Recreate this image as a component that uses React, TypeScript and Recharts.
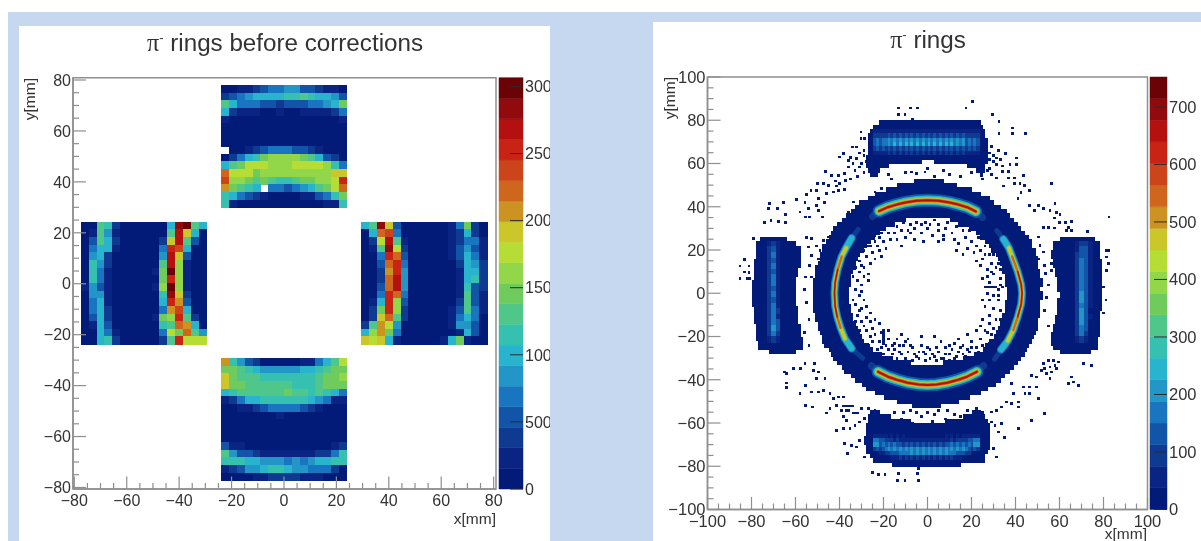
import { BarChart, Bar, ScatterChart, Scatter, XAxis, YAxis, ReferenceArea } from 'recharts'

// colour bands of the palette, bottom to top of the colour bar
const bandColors = [
  '#021a78', '#0a2483', '#0f3a92', '#1255a8', '#1a75c0', '#2296c6', '#27b4cc', '#35c0b0', '#50c78a', '#6fcc5c',
  '#92d64a', '#b5dd35', '#cbc72a', '#cc9322', '#cf661e', '#cc441a', '#c92316', '#b41010', '#900a0e', '#6b0306',
]

// left histogram, 16 x 16 bins of 3 mm per module, value = colour band (0 = empty bin)
const topModule = [
  [1, 1, 2, 2, 3, 4, 5, 5, 6, 6, 4, 4, 3, 2, 2, 1],
  [3, 4, 5, 6, 7, 7, 7, 7, 8, 8, 9, 8, 7, 7, 6, 4],
  [9, 7, 5, 5, 5, 4, 4, 3, 4, 4, 4, 5, 5, 6, 7, 10],
  [7, 3, 2, 2, 2, 1, 1, 2, 1, 1, 2, 2, 2, 2, 3, 5],
  [2, 1, 1, 1, 1, 1, 1, 1, 1, 1, 1, 1, 1, 1, 1, 2],
  [1, 1, 1, 1, 1, 1, 1, 1, 1, 1, 1, 1, 1, 1, 1, 1],
  [1, 1, 1, 1, 1, 1, 1, 1, 1, 1, 1, 1, 1, 1, 1, 1],
  [1, 1, 1, 1, 1, 1, 1, 1, 1, 1, 1, 1, 1, 1, 1, 1],
  [0, 1, 1, 2, 3, 4, 5, 5, 5, 4, 4, 3, 2, 1, 1, 1],
  [1, 3, 5, 7, 8, 10, 11, 11, 11, 11, 10, 9, 7, 4, 3, 1],
  [7, 9, 10, 12, 12, 12, 11, 11, 11, 12, 12, 12, 12, 11, 8, 5],
  [15, 12, 12, 12, 10, 11, 11, 11, 11, 11, 11, 11, 11, 11, 13, 13],
  [16, 11, 11, 10, 9, 10, 9, 8, 8, 9, 10, 10, 11, 11, 12, 17],
  [14, 10, 9, 8, 7, 0, 5, 5, 4, 5, 6, 7, 9, 10, 12, 15],
  [8, 7, 5, 4, 3, 2, 1, 1, 1, 1, 2, 2, 4, 5, 8, 10],
  [8, 2, 1, 1, 1, 1, 1, 1, 1, 1, 1, 1, 1, 2, 2, 8],
]
const leftModule = [
  [1, 1, 9, 8, 3, 1, 1, 1, 1, 1, 1, 7, 19, 20, 9, 7],
  [1, 2, 9, 6, 2, 1, 1, 1, 1, 1, 1, 9, 18, 13, 7, 1],
  [1, 4, 9, 7, 3, 1, 1, 1, 1, 1, 3, 13, 18, 9, 4, 1],
  [1, 5, 7, 7, 2, 1, 1, 1, 1, 1, 5, 17, 16, 7, 1, 1],
  [1, 6, 7, 3, 1, 1, 1, 1, 1, 1, 6, 18, 13, 4, 1, 1],
  [1, 8, 6, 3, 1, 1, 1, 1, 1, 1, 9, 18, 11, 2, 1, 1],
  [1, 8, 5, 2, 1, 1, 1, 1, 1, 2, 10, 20, 11, 2, 1, 1],
  [1, 8, 5, 2, 1, 1, 1, 1, 1, 1, 10, 17, 11, 2, 1, 1],
  [2, 6, 4, 2, 1, 1, 1, 1, 1, 2, 11, 20, 11, 2, 1, 1],
  [1, 6, 6, 2, 1, 1, 1, 1, 1, 1, 8, 19, 13, 3, 1, 1],
  [1, 5, 7, 2, 1, 1, 1, 1, 1, 1, 7, 17, 14, 4, 1, 1],
  [1, 5, 7, 3, 1, 1, 1, 1, 1, 1, 5, 14, 16, 7, 1, 1],
  [1, 4, 7, 3, 1, 1, 1, 1, 1, 2, 10, 11, 17, 9, 3, 1],
  [1, 2, 7, 4, 1, 1, 1, 1, 1, 1, 8, 9, 15, 14, 7, 1],
  [1, 1, 7, 5, 2, 1, 1, 1, 1, 1, 5, 12, 10, 15, 9, 6],
  [1, 1, 7, 8, 3, 1, 1, 1, 1, 1, 3, 9, 17, 12, 12, 12],
]
const rightModule = [
  [7, 9, 19, 13, 4, 1, 1, 1, 1, 1, 1, 2, 5, 10, 3, 1],
  [1, 7, 15, 16, 5, 1, 1, 1, 1, 1, 1, 2, 3, 7, 3, 1],
  [1, 3, 12, 18, 9, 2, 1, 1, 1, 1, 1, 2, 3, 5, 5, 2],
  [1, 2, 9, 19, 12, 3, 1, 1, 1, 1, 1, 2, 4, 6, 4, 2],
  [1, 1, 5, 17, 15, 4, 1, 1, 1, 1, 1, 2, 4, 7, 5, 2],
  [1, 1, 4, 15, 17, 5, 1, 1, 1, 1, 1, 1, 3, 7, 6, 3],
  [1, 1, 3, 14, 17, 6, 1, 1, 1, 1, 1, 1, 2, 7, 7, 3],
  [1, 1, 3, 15, 18, 6, 1, 1, 1, 1, 1, 1, 2, 7, 8, 3],
  [1, 1, 4, 15, 18, 6, 1, 1, 1, 1, 1, 1, 2, 8, 4, 3],
  [1, 1, 5, 17, 15, 5, 1, 1, 1, 1, 1, 1, 2, 9, 4, 2],
  [1, 2, 7, 17, 11, 4, 1, 1, 1, 1, 1, 1, 3, 9, 4, 2],
  [1, 3, 10, 17, 11, 3, 1, 1, 1, 1, 1, 2, 4, 9, 5, 2],
  [1, 3, 13, 15, 9, 3, 1, 1, 1, 1, 1, 2, 5, 7, 5, 1],
  [3, 9, 14, 12, 6, 1, 1, 1, 1, 1, 1, 2, 6, 6, 4, 1],
  [7, 11, 14, 10, 5, 1, 1, 1, 1, 1, 1, 1, 2, 7, 4, 1],
  [13, 12, 13, 7, 2, 1, 1, 1, 1, 1, 2, 7, 10, 2, 1, 1],
]
const bottomModule = [
  [14, 8, 6, 4, 3, 1, 1, 1, 1, 1, 2, 2, 5, 7, 9, 12],
  [10, 10, 9, 8, 7, 6, 6, 6, 6, 6, 7, 7, 8, 9, 10, 10],
  [13, 10, 9, 9, 9, 8, 8, 8, 8, 8, 8, 8, 9, 10, 10, 11],
  [13, 10, 10, 9, 9, 9, 9, 9, 9, 8, 8, 8, 9, 10, 10, 10],
  [7, 8, 9, 9, 9, 9, 9, 9, 10, 9, 9, 8, 9, 8, 7, 5],
  [2, 3, 5, 7, 7, 8, 8, 8, 8, 8, 8, 7, 6, 5, 2, 2],
  [1, 1, 2, 2, 3, 4, 5, 5, 5, 5, 4, 3, 2, 1, 1, 1],
  [1, 1, 1, 1, 1, 1, 1, 2, 1, 1, 1, 1, 1, 1, 1, 1],
  [1, 1, 1, 1, 1, 1, 1, 1, 1, 1, 1, 1, 1, 1, 1, 1],
  [1, 1, 1, 1, 1, 1, 1, 1, 1, 1, 1, 1, 1, 1, 1, 1],
  [1, 1, 1, 1, 1, 1, 1, 1, 1, 1, 1, 1, 1, 1, 1, 1],
  [4, 2, 2, 1, 1, 1, 1, 1, 1, 1, 1, 1, 1, 1, 2, 3],
  [9, 6, 4, 4, 3, 2, 2, 2, 2, 2, 2, 2, 3, 3, 5, 8],
  [8, 8, 8, 7, 7, 6, 6, 6, 5, 6, 5, 6, 7, 7, 8, 8],
  [2, 3, 4, 6, 6, 7, 8, 8, 7, 6, 6, 5, 5, 5, 3, 1],
  [1, 1, 1, 1, 2, 2, 3, 3, 3, 3, 2, 2, 2, 1, 1, 1],
]

// right histogram: filled navy spans per 2 mm row, [y, x1, x2, x3, x4 ...]
const ringRows = [
  [52, -6, 7], [50, -14, 13], [48, -19, 20], [46, -24, 24], [44, -27, 28], [42, -31, 30], [40, -33, 33],
  [38, -35, 36], [36, -37, 37], [34, -39, -10, 10, 39], [32, -41, -15, 14, 41], [30, -43, -19, 19, 42],
  [28, -44, -22, 22, 44], [26, -45, -24, 24, 46], [24, -46, -26, 26, 47], [22, -48, -28, 28, 47],
  [20, -48, -29, 29, 49], [18, -49, -31, 31, 49], [16, -49, -32, 32, 50], [14, -50, -33, 33, 50],
  [12, -51, -33, 34, 50], [10, -51, -34, 34, 51], [8, -51, -35, 35, 51], [6, -52, -35, 35, 52],
  [4, -52, -35, 35, 52], [2, -52, -36, 36, 51], [0, -52, -36, 36, 52], [-2, -52, -36, 36, 52],
  [-4, -52, -36, 35, 51], [-6, -52, -35, 35, 51], [-8, -52, -35, 35, 51], [-10, -51, -34, 34, 51],
  [-12, -51, -34, 34, 50], [-14, -50, -33, 33, 50], [-16, -50, -32, 32, 50], [-18, -49, -31, 31, 49],
  [-20, -48, -30, 30, 48], [-22, -48, -29, 28, 47], [-24, -47, -27, 26, 46], [-26, -45, -25, 25, 45],
  [-28, -44, -21, 21, 44], [-30, -43, -16, 16, 42], [-32, -41, -8, 7, 41], [-34, -39, 39], [-36, -38, 37],
  [-38, -35, 35], [-40, -33, 33], [-42, -30, 31], [-44, -28, 27], [-46, -24, 24], [-48, -20, 19],
  [-50, -14, 14], [-52, -7, 6],
]
const topBlobRows = [
  [79, -22, 24], [77, -25, 25], [75, -26, 26], [73, -27, 26], [71, -27, 27], [69, -27, 27], [67, -27, 27],
  [65, -27, 27], [63, -28, 27], [61, -28, -3, 3, 27], [59, -28, -18, 18, 26], [57, -27, -22, 22, 26], [55, -26, -23, 24, 25],
]
const bottomBlobRows = [
  [-55, -26, -22, 20, 24], [-57, -27, -17, 16, 26], [-59, -27, -8, 8, 27], [-61, -28, 28], [-63, -28, 28], [-65, -28, 28],
  [-67, -29, 28], [-69, -29, 28], [-71, -28, 28], [-73, -28, 27], [-75, -26, 26], [-77, -25, 26], [-79, -16, 15],
]
const leftBlobRows = [
  [25, -76, -64], [23, -78, -60], [21, -78, -58], [19, -78, -58], [17, -78, -58], [15, -79, -58], [13, -79, -58], [11, -79, -59],
  [9, -79, -59], [7, -79, -60], [5, -80, -60], [3, -80, -60], [1, -80, -60], [-1, -80, -60], [-3, -80, -60], [-5, -80, -60],
  [-7, -79, -59], [-9, -79, -59], [-11, -79, -59], [-13, -79, -59], [-15, -78, -58], [-17, -78, -58], [-19, -78, -58],
  [-21, -78, -57], [-23, -77, -57], [-25, -77, -57], [-27, -72, -60],
]
const rightBlobRows = [
  [25, 60, 76], [23, 57, 78], [21, 57, 78], [19, 56, 78], [17, 56, 78], [15, 57, 79], [13, 57, 79], [11, 58, 79],
  [9, 58, 79], [7, 59, 79], [5, 59, 79], [3, 59, 79], [1, 60, 79], [-1, 60, 79], [-3, 59, 79], [-5, 59, 79],
  [-7, 59, 79], [-9, 59, 78], [-11, 58, 78], [-13, 58, 78], [-15, 57, 78], [-17, 57, 78], [-19, 56, 78],
  [-21, 56, 77], [-23, 56, 77], [-25, 57, 77], [-27, 60, 74],
]

// fibre stripes inside the blobs: colour band per 1.3 mm column
const topStripes: [number, string][] = [
  [75, '2222222222222222222222222222222222222'],
  [73, '3333343434343434343434343434343433333'],
  [71, '4545565656565656565656565656565645454'],
  [69, '4545565757575757575757575757565645454'],
  [67, '3434343434343434343434343434343434343'],
  [65, '2222232323232323232323232323232322222'],
]
const bottomStripes: [number, string][] = [
  [-66, '2222212121211111111111111212121222222'],
  [-68, '5544333232222222222222222223233334455'],
  [-70, '6645454544343434343434343445454545466'],
  [-72, '3434565656565656565656565656565654343'],
  [-74, '1122334445555656565656565655544433211'],
  [-76, '1111112223232323232323232323222111111'],
]
// side blobs: colour band per 2 mm column, 2.6 mm rows from y = 23 downwards
const leftStripes = [
  '12321', '13421', '13521', '13421', '13521', '13421', '13521', '13521', '13421', '13521',
  '13421', '13521', '13531', '13521', '13541', '13641', '13531', '12321',
]
const rightStripes = [
  '12332', '12442', '13442', '13542', '13542', '13542', '13542', '13542', '13542', '13642',
  '13642', '13542', '13641', '13642', '13641', '13541', '13531', '12321',
]

// the four bright arcs of the ring
const arcTop = [[-25, 35.5], [-22, 38], [-18, 39.8], [-14, 41], [-10, 42], [-5, 42.8], [0, 43], [5, 42.8], [10, 42], [14, 41], [18, 39.8], [22, 37.8], [25, 35]]
const arcBottom = [[-25.5, -33.5], [-22.5, -36.3], [-18, -38.6], [-14, -40], [-9, -41.4], [-4, -42.2], [0, -42.4], [4, -42.2], [9, -41.4], [14, -40], [18, -38.6], [22.5, -36.3], [25.5, -33.5]]
const arcLeft = [[-31.5, 29.5], [-34.5, 25.5], [-37, 21], [-39, 17], [-40.8, 11], [-42, 5], [-42.3, 0], [-42, -6], [-41, -11], [-39.5, -16], [-37.5, -21], [-34.5, -25.5], [-29.5, -30]]
const arcRight = [[31.5, 29], [34.5, 25], [37, 21], [38.5, 17], [41, 10], [42.6, 4], [43, 0], [42.6, -5], [41, -11], [39, -17], [36.5, -22], [33.5, -26], [30.5, -30.5]]

// single occupied bins scattered around the ring and blobs
const strayBins = [
  [-13.4, 85.8], [-7.7, 85.8], [-4.6, 85.8], [-13.4, 82.7], [-10.4, 82.7], [-6.9, 80.6], [-30.4, 74.7], [-30.4, 71.6], [-28.6, 71.6],
  [-32.4, 67.8], [-34.3, 67.8], [-38.4, 64.7], [-40, 63.2], [-36.2, 61.6], [-32.4, 62.4], [-36.2, 58.5], [-33.1, 57], [-30.9, 58.5],
  [-37.7, 55.4], [-40.7, 54.7], [-46.5, 56.5], [-43.7, 54.7], [-37.4, 52.3], [-40, 50.8], [-41.5, 49.7], [-45.2, 50], [-50.1, 50.8],
  [-47.5, 50.8], [-50.5, 47.7], [-45.9, 46.2], [-43, 47], [-40.7, 47.7], [-53.1, 47.7], [-55.1, 45.7], [-59.6, 43.6], [-55.8, 42],
  [-49.8, 43.9], [-50.5, 40.8], [-54.3, 39.2], [-49.8, 38.5], [-58.1, 37.7], [-71.8, 41.5], [-65.7, 42], [-72.5, 39.5], [-68.3, 39.5],
  [-64.6, 36.5], [-74.3, 33], [-71.3, 33.8], [-68, 33.4], [-64.6, 33], [-55.5, 35.4], [-53.6, 35.4], [-48, 35.4], [-36.2, 37.7],
  [-33.9, 42.3], [-32.4, 40], [-24, 47], [-21, 48.5], [-16.4, 53], [-12.7, 60.8], [-7.4, 56.2], [-5, 55.6], [-1.3, 56.2],
  [-83.4, 15.8], [-85.4, 12.7], [-81.3, 12.7], [-83.4, 10], [-81.3, 9.6], [-85.4, 6.8], [-82, 6.8], [-81, 6.8], [-79.3, 25.3],
  [-55, 26], [-52.8, 25.3], [-54.3, 21.5], [-50.5, 22], [-49, 20], [-52.8, 17.6], [-49.8, 16], [-47.5, 14.5], [-53.6, 13], [-55.5, 7.6],
  [-52.8, 7.6], [-47.5, 24.6], [-45.2, 26.1], [-56, 2], [-55, -4], [-54, -12], [-56, -18], [-54, -24],
  [-29, 66], [-29, 64], [-31, 65], [-28, 61], [-30, 60], [-34, 60], [-35, 63], [-29, 56], [-32, 54], [-35, 53], [-42, 52], [-38, 48], [-47, 42],
  [20.2, 88.9], [17.4, 85.8], [29.3, 82.7], [32.4, 79.7], [38.4, 76.6], [32.4, 74], [38.4, 74], [44.5, 74], [35.4, 64.7], [40.4, 62.7],
  [31.3, 62.7], [37.4, 59.6], [40.4, 59.6], [31.3, 59.6], [33.9, 56.5], [36.6, 56.5], [43.4, 54.7], [36.6, 53.4], [39.3, 53.4],
  [31.3, 53.4], [39.3, 50.8], [41.9, 50.8], [34.3, 49.7], [56.3, 50.8], [46.4, 47.7], [42.4, 46.6], [46.4, 40.8], [50.2, 40.8],
  [52.5, 39.5], [48.4, 38.5], [55.5, 38.5], [57.8, 41.5], [58.6, 37.4], [60.1, 36.5], [57.5, 34.9], [60, 33], [62.7, 33], [65.4, 33.4],
  [52.5, 30.7], [54.8, 30.7], [57.5, 30.3], [63.9, 30.7], [65.4, 29.2], [63.1, 29], [72.7, 28.7], [82.4, 35.4], [50.2, 26.1], [51, 22.3],
  [52.5, 19.2], [50.2, 16], [53, 13], [56.3, 13.8], [56.3, 10.7], [53.6, 9.1], [55, 4], [54, -2], [53, -8], [55, -15], [59.3, 1.4], [81.3, 20], [82, 20],
  [81.3, 16.9], [82, 13.8], [81.3, 10.7], [80, 3], [81, -3], [80, -9],
  [29, 68], [28, 65], [30, 64], [28, 62], [30, 61], [33, 62], [34, 59], [28, 58], [32, 66], [27, 57], [29, 55], [25, 53], [44, 50], [41, 44],
  [-64.2, -37], [-65.2, -36.3], [-64.2, -41.4], [-64.2, -43.5], [-61.1, -34.7], [-58, -34.7], [-55.8, -32.4], [-51.6, -32.4], [-52, -35.5],
  [-49.8, -36.3], [-58.1, -46.3], [-55.5, -51.7], [-52.5, -52.5], [-55.5, -42.4], [-52.8, -45.5], [-49.8, -45.5], [-47.5, -44.8],
  [-46.7, -39.4], [-50.5, -39.4], [-44.5, -46.3], [-43, -48.6], [-40.7, -47.8], [-38.4, -47.8], [-41.5, -51.7], [-44.5, -53.2], [-46, -55.2],
  [-39.2, -54], [-38.4, -52], [-37, -52], [-36, -52], [-35, -52], [-34, -52], [-37, -54], [-36, -54], [-34, -55.2], [-33, -55.2], [-32, -55.2],
  [-38.4, -57], [-36.9, -58.6], [-30, -53.2], [-27, -53.2], [-28.6, -57.9], [-31, -59.4], [-33.1, -61], [-35.4, -62.5], [-41.5, -63.3],
  [-38.4, -62.5], [-37.7, -69.4], [-36.5, -73.8], [-34.6, -70.2], [-32.4, -71], [-30.9, -67.9], [-28.6, -75.6],
  [-25.3, -82.6], [-22.5, -83.6], [-19.5, -83.6], [-13.4, -83.3], [-13.7, -86.4], [-10.4, -86.4], [-4.6, -83.3], [-4.3, -86.4], [-4.3, -81],
  [29, -54.8], [31.3, -54], [33.5, -52.5], [35.8, -50.2], [38.1, -50.9], [41.1, -50.2], [41.4, -52.5], [44.2, -46.3], [46.4, -46.3], [50.2, -48.6],
  [53.2, -55.6], [47.2, -58.6], [41.1, -62.5], [35, -66.4], [32, -64], [30.5, -61], [29, -59.4], [27.5, -61], [33.5, -60.2], [29.8, -71.8], [31.3, -75.6],
  [38.1, -41.7], [38.9, -46.3], [43.4, -43.2], [46.4, -43.2], [49.4, -43.2], [47.2, -37.8], [49.4, -38.6],
  [52.5, -32.4], [54.7, -30.9], [57, -30.9], [59.3, -31.6], [53.2, -34.7], [55.5, -34], [57.8, -33.2], [54, -37], [56.3, -36.3], [55.5, -39.4], [58.6, -34.7], [51.7, -35.5],
  [63.9, -41.7], [66.1, -40.9], [68.4, -42.4], [65.4, -38.6], [70.7, -32.4], [74.5, -33.2],
  [-15, -55], [-8, -54], [0, -55], [5, -54], [12, -56], [18, -54], [22, -53], [-20, -57], [-3, -57], [8, -58], [-12, -58], [-7, -60], [2, -59],
  [-24, -54], [-11, -55], [-5, -55], [3, -56], [9, -54], [15, -57], [25, -55],
  [-18, 55], [-10, 56], [3, 54], [10, 55], [15, 54], [20, 56], [0, 58], [7, 57],
  [-16, 33], [-14, 31], [-11, 33], [-8, 32], [-5, 33], [-3, 32], [-1, 33], [3, 34], [5, 32], [9, 33], [-20, 30], [-18, 28], [-15, 28], [-12, 29], [-9, 29],
  [-6, 30], [-3, 28], [0, 30], [2, 27], [5, 29], [8, 30], [11, 28], [13, 31], [16, 29], [19, 29], [-24, 24], [-22, 26], [-20, 24], [-17, 25], [-14, 25],
  [-19, 21], [-22, 20], [-25, 19], [-27, 22], [-28, 17], [-26, 14], [-30, 13], [-31, 10], [-29, 8], [-32, 6], [-30, 4], [-27, 9], [-24, 16], [-21, 17],
  [-12, 22], [-6, 25], [-2, 24], [5, 24], [7, 25], [12, 25], [14, 23], [17, 26], [20, 24], [22, 22], [24, 20], [26, 22], [28, 18], [25, 16], [29, 14],
  [31, 12], [27, 11], [30, 9], [33, 7], [24, 13], [28, 5], [31, 3], [25, 7], [21, 19], [18, 21], [16, 18], [13, 20],
  [-21, 28], [-24, 27], [-26, 22], [-23, 22], [-29, 20], [-31, 15], [-29, 12], [-33, 12], [-27, 6], [-30, 1], [-34, 8], [-10, 26], [-8, 28], [1, 32], [7, 27],
  [23, 26], [26, 18], [30, 18], [32, 14], [29, 10], [33, 11], [22, 15], [27, 8], [34, 3], [32, -1],
  [-33, 2], [-31, -1], [-29, -3], [-33, -5], [-30, -7], [-32, -10], [-28, -11], [-30, -13], [-26, -9],
  [-34, -3], [-31, -8], [-28, -6], [-33, -13], [-29, -15], [-26, -13], [-31, -17], [-24, -12],
  [26, 3], [27, 3], [28, 3], [29, 3], [30, 3], [32, 2], [33, 4], [27, 0], [30, -1], [25, -3], [28, -3], [32, -3], [26, -6], [30, -7], [33, -8], [28, -10],
  [25, -12], [31, -12], [24, -15], [28, -14], [33, -12], [30, -16], [27, -18], [22, -17], [31, -20], [29, -19],
  [-28, -17], [-25, -16], [-22, -14], [-24, -19], [-21, -18], [-18, -17], [-18, -21], [-19, -24], [-22, -22], [-25, -22], [-27, -24], [-21, -25], [-16, -24],
  [-14, -21], [-12, -19], [-11, -24], [-9, -21], [-7, -25], [-6, -28], [-3, -24], [-2, -27], [0, -25], [2, -28], [4, -25], [6, -22], [8, -25], [10, -28],
  [12, -23], [14, -21], [16, -24], [18, -19], [20, -22], [22, -25], [24, -21], [26, -17], [28, -23], [-16, -28], [-13, -27], [-10, -30], [-7, -31], [-4, -30],
  [-1, -31], [1, -30], [4, -31], [7, -30], [10, -31], [13, -29], [16, -28], [-20, -28], [18, -26], [-3, -20], [3, -20],
  [-20, -17], [-20, -18], [-20, -19], [-20, -20], [-20, -21], [-20, -22], [-20, -23],
  [-18, -26], [-15, -26], [-14, -30], [-12, -28], [-9, -27], [-8, -24], [-5, -29], [-4, -27], [-1, -28], [1, -26], [3, -29], [5, -27], [6, -30], [8, -28],
  [11, -26], [12, -30], [14, -27], [15, -25], [17, -29], [19, -27], [20, -25], [23, -27], [25, -24], [-23, -26], [-26, -20], [-15, -23], [-13, -24], [-10, -22], [10, -24],
]

const leftMajor = [-80, -60, -40, -20, 0, 20, 40, 60, 80]
const leftMinor = [-75, -70, -65, -55, -50, -45, -35, -30, -25, -15, -10, -5, 5, 10, 15, 25, 30, 35, 45, 50, 55, 65, 70, 75]
const rightMajor = [-100, -80, -60, -40, -20, 0, 20, 40, 60, 80, 100]
const rightMinor = [-95, -90, -85, -75, -70, -65, -55, -50, -45, -35, -30, -25, -15, -10, -5, 5, 10, 15, 25, 30, 35, 45, 50, 55, 65, 70, 75, 85, 90, 95]
const leftBarTicks = [0, 5000, 10000, 15000, 20000, 25000, 30000]
const rightBarTicks = [0, 100, 200, 300, 400, 500, 600, 700]
const leftBarMax = 30650
const rightBarMax = 752

const axisGrey = '#8f8f8f'
const inkColor = '#333333'
const font = '"Liberation Sans", Arial, sans-serif'

const fmt = (v: number) => (v < 0 ? '\u2212' + Math.abs(v) : String(v))

type Cell = { x: number; y: number; band: number }

function moduleCells(rows: number[][], x0: number, yTop: number): Cell[] {
  const out: Cell[] = []
  rows.forEach((row, r) =>
    row.forEach((band, c) => {
      if (band > 0) out.push({ x: x0 + (c + 0.5) * 3, y: yTop - (r + 0.5) * 3, band })
    })
  )
  return out
}

function spanCells(rows: number[][]): Cell[] {
  const out: Cell[] = []
  rows.forEach(([y, ...edges]) => {
    for (let i = 0; i < edges.length; i += 2) {
      for (let x = edges[i]; x < edges[i + 1]; x++) out.push({ x: x + 0.5, y, band: 1 })
    }
  })
  return out
}

const stripeCells = (rows: [number, string][]): Cell[] =>
  rows.flatMap(([y, s]) => s.split('').map((ch, i) => ({ x: -24 + i * 1.3, y, band: Number(ch) })))

const columnCells = (rows: string[], x0: number): Cell[] =>
  rows.flatMap((s, r) => s.split('').map((ch, i) => ({ x: x0 + i * 2, y: 23 - r * 2.6, band: Number(ch) })))

const cellShape = (w: number, h: number) => (p: any) => (
  <rect x={p.cx - w / 2} y={p.cy - h / 2} width={w + 0.6} height={h + 0.6} fill={bandColors[p.payload.band - 1]} shapeRendering="crispEdges" />
)

const noDot = () => <g />

const makeXTick = (majors: number[], fontSize: number, dy: number) => (p: any) => {
  const major = majors.includes(p.payload.value)
  return (
    <g>
      <line x1={p.x} x2={p.x} y1={p.y} y2={p.y - (major ? 12.5 : 6)} stroke={axisGrey} strokeWidth={1.2} />
      {major && (
        <text x={p.x} y={p.y + dy} textAnchor="middle" fontSize={fontSize} fontFamily={font} fill={inkColor}>
          {fmt(p.payload.value)}
        </text>
      )}
    </g>
  )
}

const makeYTick = (majors: number[], fontSize: number, gap: number) => (p: any) => {
  const major = majors.includes(p.payload.value)
  return (
    <g>
      <line x1={p.x} x2={p.x + (major ? 13 : 6)} y1={p.y} y2={p.y} stroke={axisGrey} strokeWidth={1.2} />
      {major && (
        <text x={p.x - gap} y={p.y + fontSize * 0.36} textAnchor="end" fontSize={fontSize} fontFamily={font} fill={inkColor}>
          {fmt(p.payload.value)}
        </text>
      )}
    </g>
  )
}

const makeBarTick = (fontSize: number, len: number) => (p: any) => (
  <g>
    <line x1={p.x - len} x2={p.x} y1={p.y} y2={p.y} stroke="#2b2b2b" strokeWidth={1} />
    <text x={p.x + 2} y={p.y + fontSize * 0.36} fontSize={fontSize} fontFamily={font} fill={inkColor}>
      {p.payload.value}
    </text>
  </g>
)

function Title({ cx, y, label }: { cx: number; y: number; label: string }) {
  return (
    <text x={cx} y={y} textAnchor="middle" fontSize={24.2} fontFamily={font} fill={inkColor}>
      <tspan fontFamily='"Liberation Serif", serif'>π</tspan>
      <tspan fontSize={13} dy={-9}>-</tspan>
      <tspan dy={9}> {label}</tspan>
    </text>
  )
}

function ColorBar({ max, ticks, left, top, height, width, marginTop, marginBottom, axisWidth, fontSize, len }: any) {
  const step = max / bandColors.length
  const row: Record<string, number | string> = { name: 'z' }
  bandColors.forEach((_, i) => (row['b' + i] = step))
  return (
    <div style={{ position: 'absolute', left, top }}>
      <BarChart width={width} height={height} data={[row]} barCategoryGap={0} margin={{ top: marginTop, bottom: marginBottom, left: 4, right: 0 }}>
        <XAxis dataKey="name" hide />
        <YAxis orientation="right" width={axisWidth} domain={[0, max]} ticks={ticks} interval={0} tickLine={false} axisLine={false} tickSize={0} tickMargin={0} tick={makeBarTick(fontSize, len)} />
        {bandColors.map((c, i) => (
          <Bar key={c} dataKey={'b' + i} stackId="z" fill={c} stroke={c} strokeWidth={0.5} isAnimationActive={false} />
        ))}
      </BarChart>
    </div>
  )
}

const leftCells = [
  ...moduleCells(topModule, -24, 78),
  ...moduleCells(leftModule, -77.5, 24.3),
  ...moduleCells(rightModule, 29.5, 24.3),
  ...moduleCells(bottomModule, -24, -29.2),
]
const navyCells = spanCells([...ringRows, ...topBlobRows, ...bottomBlobRows, ...leftBlobRows, ...rightBlobRows])
const blobCells = [...stripeCells(topStripes), ...stripeCells(bottomStripes)]
const sideCells = [...columnCells(leftStripes, -74), ...columnCells(rightStripes, 66)]
const strayCells = strayBins.map(([x, y]) => ({ x, y, band: 1 }))

const LX = 2.62
const LY = 2.546
const RX = 2.2
const RY = 2.16

// colour, stroke px, points trimmed off each end
const wideLayers: [string, number, number][] = [
  [bandColors[2], 7, 0], [bandColors[3], 13, 1], [bandColors[6], 9.5, 1], [bandColors[9], 7, 1], [bandColors[12], 5, 1], [bandColors[14], 3.6, 1], [bandColors[17], 2, 1],
]
const sideLayers: [string, number, number][] = [
  [bandColors[2], 5, 0], [bandColors[4], 8, 1], [bandColors[6], 6, 1], [bandColors[9], 4.6, 2], [bandColors[12], 3.4, 2], [bandColors[14], 2.4, 3], [bandColors[17], 1.5, 4],
]

function arcSeries(points: number[][], layers: [string, number, number][], key: string) {
  return layers.map(([color, width, trim]) => (
    <Scatter
      key={key + color}
      data={points.slice(trim, points.length - trim).map(([x, y]) => ({ x, y }))}
      line={{ stroke: color, strokeWidth: width, strokeLinecap: 'round', strokeLinejoin: 'round' }}
      lineType="joint"
      shape={noDot}
      isAnimationActive={false}
    />
  ))
}

export default function App() {
  return (
    <div style={{ position: 'absolute', left: 0, top: 0, width: 1201, height: 541, background: '#ffffff', overflow: 'hidden', filter: 'blur(0.5px)' }}>
      <div style={{ position: 'absolute', left: 8, top: 12, width: 1193, height: 529, background: '#c6d8f0' }} />

      <div style={{ position: 'absolute', left: 19, top: 26, width: 531, height: 515, background: '#ffffff' }}>
        <ScatterChart width={531} height={515} margin={{ top: 51.7, right: 54, bottom: 0, left: 0 }}>
          <XAxis type="number" dataKey="x" domain={[-80.5, 80.9]} ticks={[...leftMajor, ...leftMinor]} interval={0} height={52} allowDataOverflow tickLine={false} tickSize={0} tickMargin={0} axisLine={{ stroke: axisGrey, strokeWidth: 1.5 }} tick={makeXTick(leftMajor, 16, 17)} />
          <YAxis type="number" dataKey="y" domain={[-80.6, 80.9]} ticks={[...leftMajor, ...leftMinor]} interval={0} width={54} allowDataOverflow tickLine={false} tickSize={0} tickMargin={0} axisLine={{ stroke: axisGrey, strokeWidth: 1.5 }} tick={makeYTick(leftMajor, 16, 2)} />
          <Scatter data={leftCells} shape={cellShape(3 * LX, 3 * LY)} isAnimationActive={false} />
          <ReferenceArea x1={-80.5} x2={80.9} y1={-80.6} y2={80.9} fill="none" stroke={axisGrey} strokeWidth={1.5} />
          <Title cx={266} y={25} label="rings before corrections" />
          <text x={477} y={498} textAnchor="end" fontSize={15.5} fontFamily={font} fill={inkColor}>x[mm]</text>
          <text transform="translate(16 52) rotate(-90)" textAnchor="end" fontSize={15.5} fontFamily={font} fill={inkColor}>y[mm]</text>
        </ScatterChart>
      </div>
      <ColorBar max={leftBarMax} ticks={leftBarTicks} left={495} top={26} width={55} height={515} marginTop={51.7} marginBottom={52} axisWidth={27} fontSize={16} len={13} />

      <div style={{ position: 'absolute', left: 653, top: 22, width: 548, height: 519, background: '#ffffff' }}>
        <ScatterChart width={548} height={519} margin={{ top: 55, right: 53.5, bottom: 0, left: 0 }}>
          <XAxis type="number" dataKey="x" domain={[-100, 100]} ticks={[...rightMajor, ...rightMinor]} interval={0} height={31.5} allowDataOverflow tickLine={false} tickSize={0} tickMargin={0} axisLine={{ stroke: axisGrey, strokeWidth: 1.5 }} tick={makeXTick(rightMajor, 16.5, 17)} />
          <YAxis type="number" dataKey="y" domain={[-100, 100]} ticks={[...rightMajor, ...rightMinor]} interval={0} width={54.5} allowDataOverflow tickLine={false} tickSize={0} tickMargin={0} axisLine={{ stroke: axisGrey, strokeWidth: 1.5 }} tick={makeYTick(rightMajor, 16.5, 2)} />
          <Scatter data={strayCells} shape={cellShape(RX, RY)} isAnimationActive={false} />
          <Scatter data={navyCells} shape={cellShape(RX, 2 * RY)} isAnimationActive={false} />
          <Scatter data={blobCells} shape={cellShape(1.3 * RX, 2 * RY)} isAnimationActive={false} />
          <Scatter data={sideCells} shape={cellShape(2 * RX, 2.6 * RY)} isAnimationActive={false} />
          {arcSeries(arcTop, wideLayers, 'top')}
          {arcSeries(arcBottom, wideLayers, 'bottom')}
          {arcSeries(arcLeft, sideLayers, 'left')}
          {arcSeries(arcRight, sideLayers, 'right')}
          <ReferenceArea x1={-100} x2={100} y1={-100} y2={100} fill="none" stroke={axisGrey} strokeWidth={1.5} />
          <Title cx={275} y={26} label="rings" />
          <text x={494} y={517} textAnchor="end" fontSize={15.5} fontFamily={font} fill={inkColor}>x[mm]</text>
          <text transform="translate(22 55) rotate(-90)" textAnchor="end" fontSize={15.5} fontFamily={font} fill={inkColor}>y[mm]</text>
        </ScatterChart>
      </div>
      <ColorBar max={rightBarMax} ticks={rightBarTicks} left={1146} top={22} width={55} height={519} marginTop={55} marginBottom={31.5} axisWidth={34} fontSize={16.5} len={13} />
    </div>
  )
}
